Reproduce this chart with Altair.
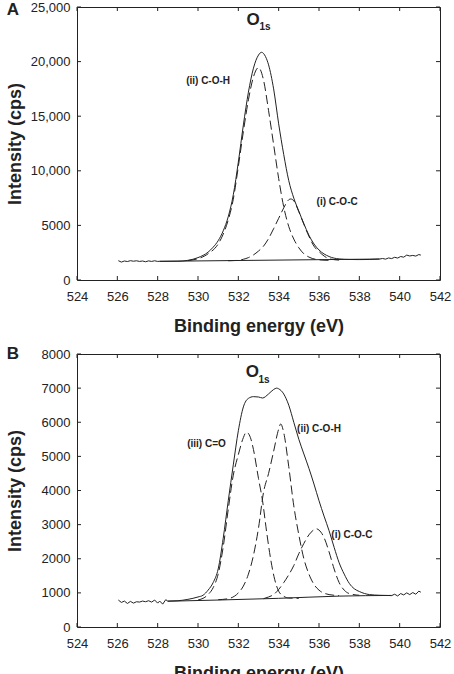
import altair as alt
import pandas as pd

FONT = "Liberation Sans"
INK = "#222222"

# ---------------- Panel A data ----------------
A_env_x = [528.1, 529.0, 529.5, 530.0, 530.5, 530.75, 531.0, 531.25, 531.5, 531.75, 532.0, 532.25, 532.5, 532.75,
           533.0, 533.15, 533.35, 533.5, 533.75, 534.0, 534.25, 534.5, 534.75, 535.0, 535.25, 535.5, 535.75, 536.0,
           536.5, 537.0, 537.5, 538.0, 538.5, 539.0]
A_env_y = [1710, 1720, 1800, 2050, 2550, 3000, 3600, 4500, 5800, 7800, 10800, 14200, 17200, 19400,
           20600, 20850, 20450, 19700, 17500, 14300, 11500, 9100, 7500, 6300, 5150, 4100, 3300, 2750,
           2150, 1930, 1880, 1870, 1880, 1920]
A_ii_x = [529.5, 530.0, 530.5, 531.0, 531.25, 531.5, 531.75, 532.0, 532.25, 532.5, 532.75, 533.0, 533.25, 533.5,
          533.75, 534.0, 534.25, 534.5, 534.75, 535.0, 535.25, 535.5, 536.0, 536.5]
A_ii_y = [1780, 1950, 2400, 3300, 4200, 5500, 7400, 10400, 13600, 16500, 18600, 19450, 18300, 15500,
          12400, 9300, 6700, 4900, 3750, 2950, 2400, 2100, 1850, 1800]
A_i_x = [531.5, 532.0, 532.25, 532.5, 532.75, 533.0, 533.25, 533.5, 533.75, 534.0, 534.25, 534.5, 534.6, 534.75,
         535.0, 535.25, 535.5, 535.75, 536.0, 536.5, 537.0]
A_i_y = [1760, 1800, 1900, 2050, 2300, 2650, 3100, 3800, 4700, 5650, 6600, 7350, 7420, 7250,
         6250, 5100, 4000, 3100, 2600, 1950, 1820]
A_base_x = [528.1, 539.0]
A_base_y = [1710, 1920]
A_rawL_x = [526.05, 526.2, 526.35, 526.5, 526.65, 526.8, 526.95, 527.1, 527.25, 527.4, 527.55, 527.7, 527.85, 528.0, 528.1]
A_rawL_y = [1770, 1640, 1740, 1690, 1770, 1720, 1760, 1700, 1740, 1670, 1750, 1700, 1760, 1700, 1710]
A_rawR_x = [539.0, 539.15, 539.3, 539.45, 539.6, 539.75, 539.9, 540.05, 540.2, 540.35, 540.5, 540.65, 540.8, 540.95, 541.05]
A_rawR_y = [1920, 1970, 1910, 2020, 1960, 2080, 2010, 2150, 2090, 2280, 2200, 2250, 2190, 2330, 2280]
A_lab_text = ["(ii) C-O-H", "(i) C-O-C"]
A_lab_x = [530.5, 536.9]
A_lab_y = [18230, 7145]
A_title_xy = (532.73, 23800, 533.32, 23200)

# ---------------- Panel B data ----------------
B_env_x = [528.5, 529.0, 529.5, 530.0, 530.25, 530.5, 530.75, 531.0, 531.25, 531.5, 531.75, 532.0, 532.25, 532.5,
           532.75, 533.0, 533.2, 533.5, 533.75, 533.9, 534.0, 534.25, 534.5, 534.75, 535.0, 535.25, 535.5, 535.75,
           536.0, 536.25, 536.5, 536.75, 537.0, 537.25, 537.5, 537.75, 538.0, 538.5, 539.0, 539.6]
B_env_y = [760, 770, 810, 880, 930, 1080, 1300, 1700, 2600, 3700, 4750, 5750, 6450, 6700,
           6750, 6740, 6710, 6830, 6960, 7000, 6980, 6830, 6500, 6000, 5500, 5070, 4650, 4190,
           3700, 3250, 2820, 2335, 1880, 1550, 1280, 1120, 1040, 950, 930, 920]
B_iii_x = [530.0, 530.5, 530.75, 531.0, 531.25, 531.5, 531.75, 532.0, 532.25, 532.4, 532.6, 532.75, 533.0, 533.2,
           533.4, 533.6, 533.8, 534.0, 534.25, 534.5, 535.0]
B_iii_y = [790, 950, 1150, 1550, 2350, 3450, 4450, 5050, 5550, 5710, 5550, 5200, 4350, 3700,
           2800, 2000, 1400, 1050, 900, 850, 840]
B_ii_x = [531.0, 531.5, 532.0, 532.25, 532.5, 532.75, 533.0, 533.25, 533.5, 533.75, 534.0, 534.1, 534.25, 534.5,
          534.75, 535.0, 535.25, 535.5, 535.75, 536.0, 536.5, 537.0]
B_ii_y = [800, 830, 1000, 1200, 1550, 2100, 2900, 3950, 4500, 5150, 5800, 5950, 5700, 4700,
          3550, 2700, 2000, 1550, 1250, 1080, 950, 920]
B_i_x = [533.25, 533.5, 533.75, 534.0, 534.25, 534.5, 534.75, 535.0, 535.25, 535.5, 535.75, 535.85, 536.0, 536.25,
         536.5, 536.75, 537.0, 537.25, 537.5, 538.0]
B_i_y = [830, 880, 950, 1100, 1300, 1530, 1800, 2150, 2450, 2700, 2850, 2880, 2840, 2620,
         2200, 1700, 1300, 1080, 980, 930]
B_base_x = [528.5, 531.0, 534.0, 537.0, 539.6]
B_base_y = [755, 790, 840, 905, 925]
B_rawL_x = [526.05, 526.2, 526.35, 526.5, 526.65, 526.8, 526.95, 527.1, 527.25, 527.4, 527.55, 527.7, 527.85, 528.0,
            528.1, 528.25, 528.4, 528.5]
B_rawL_y = [790, 720, 760, 690, 750, 700, 740, 730, 760, 740, 770, 730, 790, 700, 760, 670, 800, 760]
B_rawR_x = [539.6, 539.75, 539.9, 540.05, 540.2, 540.35, 540.5, 540.65, 540.8, 540.95, 541.05]
B_rawR_y = [920, 960, 910, 980, 940, 1000, 950, 1010, 960, 1050, 1020]
B_lab_text = ["(iii) C=O", "(ii) C-O-H", "(i) C-O-C"]
B_lab_x = [530.42, 536.0, 537.63]
B_lab_y = [5360, 5800, 2695]
B_title_xy = (532.7, 7470, 533.27, 7240)

X_TICKS = [524, 526, 528, 530, 532, 534, 536, 538, 540, 542]
A_Y_TICKS = [0, 5000, 10000, 15000, 20000, 25000]
B_Y_TICKS = [0, 1000, 2000, 3000, 4000, 5000, 6000, 7000, 8000]

W, H = 363, 273


def series(xs, ys, name):
    return pd.DataFrame({"x": xs, "y": ys, "s": name})


def panel(solid_sets, dashed_sets, raw_sets, ymax, yticks, labelexpr, labs, otitle, letter):
    xsc = alt.Scale(domain=[524, 542], nice=False, zero=False)
    ysc = alt.Scale(domain=[0, ymax], nice=False)
    xax = alt.Axis(values=X_TICKS, ticks=False, domain=False, grid=False, labelFont=FONT, labelFontSize=13,
                   labelColor=INK, labelPadding=10, labelOverlap=False, labelFlush=False, labelSeparation=0,
                   labelExpr="format(datum.value, 'd')", title="Binding energy (eV)",
                   titleFont=FONT, titleFontSize=18, titleFontWeight="bold", titleColor=INK,
                   titlePadding=14)
    yax = alt.Axis(values=yticks, ticks=False, domain=False, grid=False, labelFont=FONT, labelFontSize=13,
                   labelColor=INK, labelPadding=7, labelOverlap=False, labelExpr=labelexpr,
                   title="Intensity (cps)", titleFont=FONT, titleFontSize=18, titleFontWeight="bold",
                   titleColor=INK, titleX=-62, titleY=H / 2, titleAngle=-90, titleAlign="center",
                   titleBaseline="middle")

    def X(field):
        return alt.X(field, scale=xsc, axis=xax, title="Binding energy (eV)")

    def Y(field):
        return alt.Y(field, scale=ysc, axis=yax, title="Intensity (cps)")

    solid_df = pd.concat(solid_sets)
    dashed_df = pd.concat(dashed_sets)
    raw_df = pd.concat(raw_sets)

    solid = alt.Chart(solid_df).mark_line(color=INK, strokeWidth=1, interpolate="monotone").encode(
        x=X("x:Q"), y=Y("y:Q"), detail="s:N")
    dashed = alt.Chart(dashed_df).mark_line(color=INK, strokeWidth=1, strokeDash=[9, 4],
                                            interpolate="monotone").encode(
        x=X("x:Q"), y=Y("y:Q"), detail="s:N")
    raw = alt.Chart(raw_df).mark_line(color=INK, strokeWidth=1, interpolate="linear").encode(
        x=X("x:Q"), y=Y("y:Q"), detail="s:N")

    lab_df = pd.DataFrame({"x": labs[1], "y": labs[2], "t": labs[0]})
    labels = alt.Chart(lab_df).mark_text(font=FONT, fontSize=10, fontWeight="bold", color=INK).encode(
        x=X("x:Q"), y=Y("y:Q"), text="t:N")

    o_df = pd.DataFrame({"x": [otitle[0]], "y": [otitle[1]], "t": ["O"]})
    s_df = pd.DataFrame({"x": [otitle[2]], "y": [otitle[3]], "t": ["1s"]})
    o_txt = alt.Chart(o_df).mark_text(font=FONT, fontSize=17, fontWeight="bold", color=INK).encode(
        x=X("x:Q"), y=Y("y:Q"), text="t:N")
    s_txt = alt.Chart(s_df).mark_text(font=FONT, fontSize=10, fontWeight="bold", color=INK).encode(
        x=X("x:Q"), y=Y("y:Q"), text="t:N")

    xt = pd.DataFrame({"t": X_TICKS})
    yt = pd.DataFrame({"t": yticks})
    tb = alt.Chart(xt).mark_rule(color=INK, strokeWidth=1).encode(
        x=X("t:Q"), y=alt.value(H), y2=alt.value(H - 4))
    tt = alt.Chart(xt).mark_rule(color=INK, strokeWidth=1).encode(
        x=X("t:Q"), y=alt.value(0), y2=alt.value(4))
    tl = alt.Chart(yt).mark_rule(color=INK, strokeWidth=1).encode(
        y=Y("t:Q"), x=alt.value(0), x2=alt.value(4))
    tr = alt.Chart(yt).mark_rule(color=INK, strokeWidth=1).encode(
        y=Y("t:Q"), x=alt.value(W), x2=alt.value(W - 4))

    let = alt.Chart(pd.DataFrame({"t": [letter[0]]})).mark_text(
        font=FONT, fontSize=17, fontWeight="bold", color=INK, align="center", baseline="middle").encode(
        x=alt.value(-64), y=alt.value(letter[1]), text="t:N")

    return alt.layer(solid, dashed, raw, labels, o_txt, s_txt, tb, tt, tl, tr, let).properties(width=W, height=H)


pA = panel(
    [series(A_env_x, A_env_y, "env"), series(A_base_x, A_base_y, "base")],
    [series(A_ii_x, A_ii_y, "ii"), series(A_i_x, A_i_y, "i")],
    [series(A_rawL_x, A_rawL_y, "L"), series(A_rawR_x, A_rawR_y, "R")],
    25000, A_Y_TICKS,
    "datum.value >= 10000 ? format(datum.value, ',') : format(datum.value, 'd')",
    (A_lab_text, A_lab_x, A_lab_y), A_title_xy, ("A", 3))

pB = panel(
    [series(B_env_x, B_env_y, "env"), series(B_base_x, B_base_y, "base")],
    [series(B_iii_x, B_iii_y, "iii"), series(B_ii_x, B_ii_y, "ii"), series(B_i_x, B_i_y, "i")],
    [series(B_rawL_x, B_rawL_y, "L"), series(B_rawR_x, B_rawR_y, "R")],
    8000, B_Y_TICKS,
    "format(datum.value, 'd')",
    (B_lab_text, B_lab_x, B_lab_y), B_title_xy, ("B", 0))

chart = alt.vconcat(pA, pB, spacing=8).properties(
    padding={"left": 5, "top": 0, "right": 2, "bottom": 0},
    background="white",
).configure_view(stroke=INK, strokeWidth=1).configure_axis(labelOverlap=False)

chart.save("out.html", embed_options={"renderer": "svg", "actions": False})
